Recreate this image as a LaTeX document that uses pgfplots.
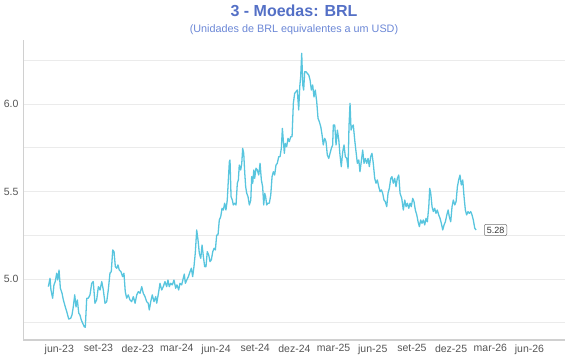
\documentclass[border=0pt]{standalone}
\usepackage{fontspec}
\setmainfont{Liberation Sans}
\usepackage{pgfplots}
\pgfplotsset{compat=1.18}
\definecolor{titleblue}{HTML}{5470C6}
\definecolor{subblue}{HTML}{6B87D6}
\definecolor{linecyan}{RGB}{88,197,222}
\definecolor{gridc}{HTML}{EBEBEB}
\definecolor{axisc}{HTML}{D0D0D0}
\definecolor{tickc}{HTML}{555555}
\begin{document}
\begin{tikzpicture}
\useasboundingbox (-23bp,-20bp) rectangle (547bp,340bp);
\begin{axis}[
  scale only axis, width=542bp, height=300bp,
  at={(0,0)}, anchor=south west,
  xmin=-2.78, xmax=38.72, ymin=4.651, ymax=6.366,
  axis x line*=bottom, axis y line*=left,
  axis line style={-, draw=axisc},
  x axis line style={line width=1.2pt},
  major tick length=0pt, minor tick length=0pt,
  xtick={0,3,...,36},
  xticklabels={jun-23,set-23,dez-23,mar-24,jun-24,set-24,dez-24,mar-25,jun-25,set-25,dez-25,mar-26,jun-26},
  ytick={5,5.5,6},
  minor ytick={4.75,5.25,5.75,6.25},
  ymajorgrids, yminorgrids,
  major grid style={gridc, line width=0.6pt},
  minor grid style={gridc, line width=0.6pt},
  yticklabel style={/pgf/number format/fixed, /pgf/number format/precision=1, /pgf/number format/fixed zerofill, xshift=-1bp},
  /pgf/number format/assume math mode=true,
  tick label style={font=\fontsize{10.5bp}{12bp}\selectfont, text=tickc},
  xticklabel style={yshift=-1bp},
  clip=false,
]
\addplot[linecyan, line width=1.3pt, line join=round] coordinates {
(-0.84,4.956) (-0.71,5.004) (-0.64,4.937) (-0.51,4.890) (-0.41,4.966) (-0.31,4.985) (-0.20,5.033) (-0.12,4.994) (-0.02,5.051)
(0.08,4.947) (0.21,4.918) (0.31,4.880) (0.46,4.840) (0.57,4.813) (0.72,4.771) (0.87,4.775) (0.97,4.794) (1.07,4.840)
(1.18,4.909) (1.28,4.840) (1.38,4.880) (1.49,4.804) (1.58,4.794) (1.68,4.766) (1.79,4.747) (1.91,4.727) (1.99,4.724)
(2.10,4.890) (2.22,4.890) (2.35,4.909) (2.48,4.975) (2.60,4.985) (2.73,4.861) (2.86,4.880) (2.99,4.956) (3.12,4.937)
(3.25,4.985) (3.37,4.937) (3.50,4.861) (3.63,4.870) (3.75,4.937) (3.88,5.033) (3.98,5.042) (4.09,5.166) (4.19,5.156)
(4.29,5.070) (4.40,5.061) (4.49,5.080) (4.59,5.051) (4.72,5.042) (4.85,5.013) (4.95,5.033) (5.05,4.927) (5.16,4.890)
(5.28,4.909) (5.41,4.880) (5.54,4.870) (5.67,4.899) (5.80,4.861) (5.93,4.909) (6.05,4.927) (6.18,4.918) (6.31,4.956)
(6.43,4.918) (6.56,4.899) (6.69,4.870) (6.81,4.861) (6.89,4.823) (7.00,4.870) (7.12,4.909) (7.25,4.870) (7.38,4.899)
(7.46,4.861) (7.61,4.927) (7.71,4.975) (7.84,4.937) (7.96,4.956) (8.09,4.985) (8.22,4.956) (8.32,4.994) (8.42,4.956)
(8.53,4.975) (8.65,4.966) (8.78,4.994) (8.91,4.947) (9.01,4.966) (9.14,4.937) (9.24,4.975) (9.37,4.966) (9.49,5.004)
(9.57,5.028) (9.65,4.975) (9.76,4.994) (9.88,5.013) (10.01,5.042) (10.11,5.061) (10.21,5.013) (10.31,5.070) (10.41,5.147)
(10.52,5.280) (10.62,5.223) (10.72,5.147) (10.83,5.118) (10.93,5.194) (11.03,5.128) (11.13,5.070) (11.23,5.070) (11.33,5.156)
(11.44,5.137) (11.54,5.099) (11.64,5.109) (11.75,5.156) (11.85,5.175) (11.95,5.166) (12.05,5.251) (12.15,5.251) (12.25,5.337)
(12.36,5.356) (12.46,5.404) (12.56,5.394) (12.66,5.433) (12.76,5.394) (12.86,5.451) (12.97,5.604) (13.02,5.670) (13.07,5.680)
(13.15,5.470) (13.25,5.451) (13.32,5.423) (13.43,5.433) (13.53,5.423) (13.63,5.547) (13.71,5.566) (13.78,5.651) (13.89,5.623)
(13.97,5.661) (14.04,5.747) (14.12,5.718) (14.20,5.604) (14.27,5.527) (14.35,5.490) (14.45,5.470) (14.55,5.423) (14.66,5.450)
(14.73,5.585) (14.81,5.547) (14.89,5.623) (14.96,5.575) (15.06,5.633) (15.16,5.623) (15.27,5.594) (15.37,5.661) (15.47,5.566)
(15.57,5.527) (15.65,5.423) (15.73,5.490) (15.80,5.470) (15.88,5.423) (15.98,5.433) (16.08,5.433) (16.19,5.480) (16.29,5.585)
(16.39,5.613) (16.49,5.594) (16.59,5.651) (16.69,5.661) (16.80,5.699) (16.90,5.699) (17.00,5.747) (17.08,5.861) (17.15,5.794)
(17.23,5.718) (17.30,5.775) (17.41,5.756) (17.51,5.804) (17.61,5.785) (17.72,5.813) (17.82,5.813) (17.92,6.004) (18.02,6.061)
(18.12,6.070) (18.22,6.080) (18.33,5.966) (18.41,6.099) (18.48,6.156) (18.56,6.290) (18.64,6.109) (18.71,6.080) (18.79,6.185)
(18.89,6.185) (18.99,6.175) (19.10,6.166) (19.20,6.137) (19.30,6.080) (19.40,6.109) (19.50,6.040) (19.60,6.080) (19.71,6.013)
(19.81,5.918) (19.91,5.899) (20.02,5.870) (20.12,5.823) (20.21,5.766) (20.32,5.804) (20.42,5.785) (20.52,5.709) (20.63,5.689)
(20.73,5.718) (20.83,5.747) (20.93,5.766) (20.98,5.880) (21.09,5.880) (21.19,5.766) (21.29,5.851) (21.40,5.794) (21.49,5.709)
(21.59,5.642) (21.70,5.727) (21.80,5.766) (21.90,5.699) (22.01,5.689) (22.11,5.633) (22.18,5.870) (22.26,6.004) (22.34,5.851)
(22.41,5.870) (22.51,5.880) (22.62,5.794) (22.72,5.727) (22.82,5.661) (22.93,5.680) (23.02,5.613) (23.12,5.670) (23.23,5.737)
(23.33,5.661) (23.43,5.689) (23.54,5.661) (23.64,5.689) (23.74,5.642) (23.84,5.699) (23.94,5.718) (24.04,5.661) (24.15,5.575)
(24.25,5.547) (24.35,5.566) (24.46,5.527) (24.56,5.499) (24.66,5.509) (24.76,5.490) (24.86,5.451) (24.96,5.442) (25.07,5.413)
(25.17,5.490) (25.27,5.518) (25.38,5.575) (25.47,5.585) (25.57,5.547) (25.68,5.575) (25.78,5.527) (25.88,5.575) (25.99,5.594)
(26.09,5.490) (26.22,5.461) (26.34,5.394) (26.45,5.451) (26.55,5.413) (26.65,5.433) (26.76,5.404) (26.86,5.433) (26.95,5.413)
(27.06,5.461) (27.16,5.442) (27.26,5.394) (27.37,5.366) (27.47,5.327) (27.57,5.299) (27.67,5.337) (27.77,5.318) (27.87,5.337)
(27.98,5.309) (28.08,5.347) (28.18,5.327) (28.29,5.413) (28.36,5.518) (28.44,5.490) (28.54,5.413) (28.64,5.385) (28.74,5.404)
(28.84,5.375) (28.94,5.394) (29.05,5.366) (29.15,5.347) (29.25,5.318) (29.36,5.280) (29.46,5.309) (29.56,5.327) (29.67,5.366)
(29.77,5.394) (29.86,5.356) (29.97,5.327) (30.07,5.413) (30.17,5.451) (30.28,5.423) (30.38,5.442) (30.48,5.527) (30.58,5.566)
(30.68,5.594) (30.78,5.537) (30.89,5.566) (30.99,5.470) (31.09,5.394) (31.19,5.366) (31.29,5.385) (31.39,5.375) (31.50,5.385)
(31.60,5.366) (31.70,5.337) (31.81,5.290) (31.91,5.280)
};
\node[anchor=west, xshift=8bp, draw=black!55, fill=white, rounded corners=2bp, line width=0.5pt,
  inner xsep=2.5bp, inner ysep=2.5bp, font=\fontsize{9bp}{10bp}\selectfont, text=black!80]
  at (axis cs:31.91,5.28) {5.28};
\node[font=\bfseries\fontsize{16bp}{18bp}\selectfont, text=titleblue] at (axis description cs:0.5,1) [yshift=29bp] {3 - Moedas: BRL};
\node[font=\fontsize{10.8bp}{12bp}\selectfont, text=subblue] at (axis description cs:0.5,1) [yshift=10bp] {(Unidades de BRL equivalentes a um USD)};
\end{axis}
\end{tikzpicture}
\end{document}
